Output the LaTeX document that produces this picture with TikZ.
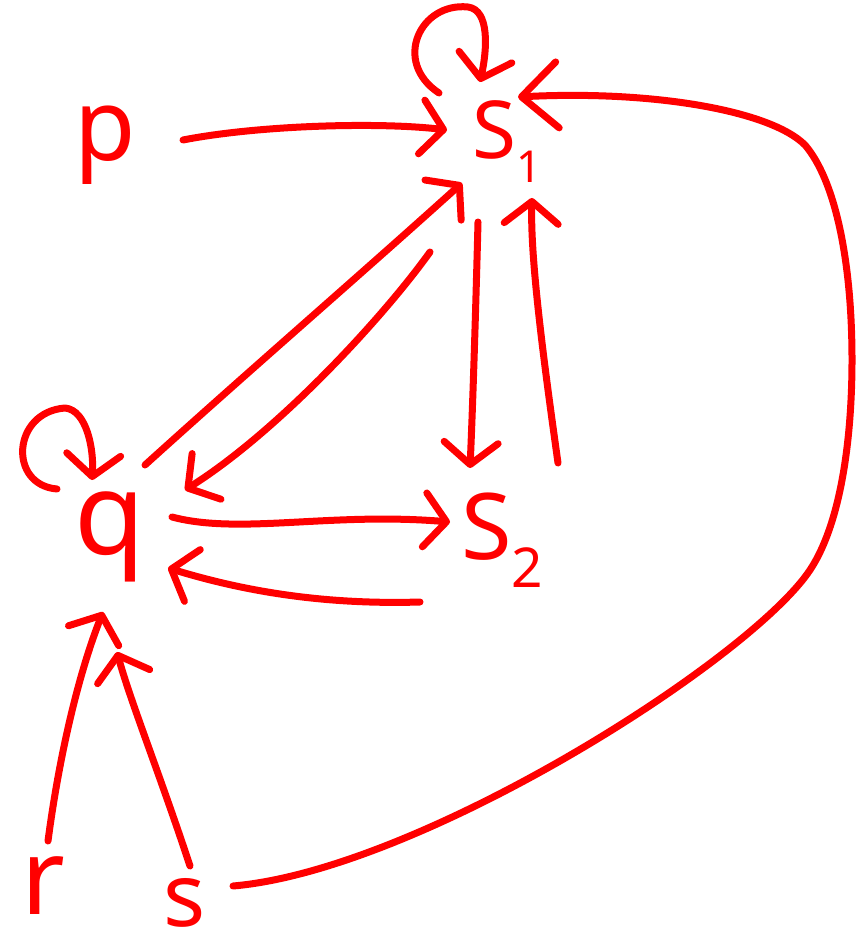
\documentclass[tikz,border=0pt]{standalone}
\usepackage{fontspec}
\setmainfont{Noto Sans}
\usetikzlibrary{arrows.meta,calc}
\begin{document}
\begin{tikzpicture}[x=1pt,y=-1pt,
  lbl/.style={text=red, inner sep=0pt},
  con/.style={draw=red, line width=7pt, line cap=round, line join=round,
    -{Straight Barb[length=22pt,width=54pt,round]}},
  bigcon/.style={con, -{Straight Barb[length=36pt,width=66pt,round]}}]
\useasboundingbox (0,0) rectangle (861,952);
% nodes
\node[lbl,font=\fontsize{100}{100}\selectfont] (p) at (105,145) {p};
\node[lbl,font=\fontsize{80}{80}\selectfont] (s1) at (507,142) {S\raisebox{-0.3em}{\fontsize{44}{44}\selectfont 1}};
\node[lbl,font=\fontsize{115}{115}\selectfont] (q) at (110,537) {q};
\node[lbl,font=\fontsize{92}{92}\selectfont] (s2) at (502,540) {S\raisebox{-0.3em}{\fontsize{55}{55}\selectfont 2}};
\node[lbl,font=\fontsize{106}{106}\selectfont] (r) at (43,886) {r};
\node[lbl,font=\fontsize{88}{88}\selectfont] (s) at (185,903) {s};
% connectors
\draw[con] ($(p)+(78,-5)$) .. controls (260,125) and (380,122) .. ($(s1)+(-60,-12)$);
\draw[con] ($(s1)+(-68,-49)$) .. controls (392,62) and (420,2) .. (468,7)
   .. controls (490,10) and (487,50) .. ($(s1)+(-27,-60)$);
\draw[con] ($(q)+(-53,-48)$) .. controls (8,485) and (12,412) .. (65,408)
   .. controls (87,410) and (94,450) .. ($(q)+(-18,-57)$);
\draw[con] ($(q)+(35,-72)$) .. controls (250,370) and (360,275) .. ($(s1)+(-45,41)$);
\draw[con] ($(s1)+(-77,110)$) .. controls (385,315) and (280,430) .. ($(q)+(75,-47)$);
\draw[con] ($(s1)+(-29,80)$) .. controls (476,300) and (473,400) .. ($(s2)+(-32,-72)$);
\draw[con] ($(s2)+(56,-77)$) .. controls (545,370) and (530,260) .. ($(s1)+(25,56)$);
\draw[con] ($(q)+(62,-20)$) .. controls (240,535) and (330,512) .. ($(s2)+(-52,-18)$);
\draw[con] ($(s2)+(-82,62)$) .. controls (320,605) and (240,590) .. ($(q)+(58,31)$);
\draw[con] ($(r)+(5,-45)$) .. controls (60,750) and (80,670) .. ($(q)+(-7,75)$);
\draw[con] ($(s)+(5,-37)$) .. controls (160,775) and (130,700) .. ($(q)+(7,115)$);
\draw[bigcon] ($(s)+(48,-17)$) .. controls (420,870) and (750,660) .. (810,570)
   .. controls (843,520) and (852,430) .. (852,360)
   .. controls (852,260) and (835,180) .. (805,145)
   .. controls (770,110) and (650,90) .. ($(s1)+(11,-45)$);
\end{tikzpicture}
\end{document}
